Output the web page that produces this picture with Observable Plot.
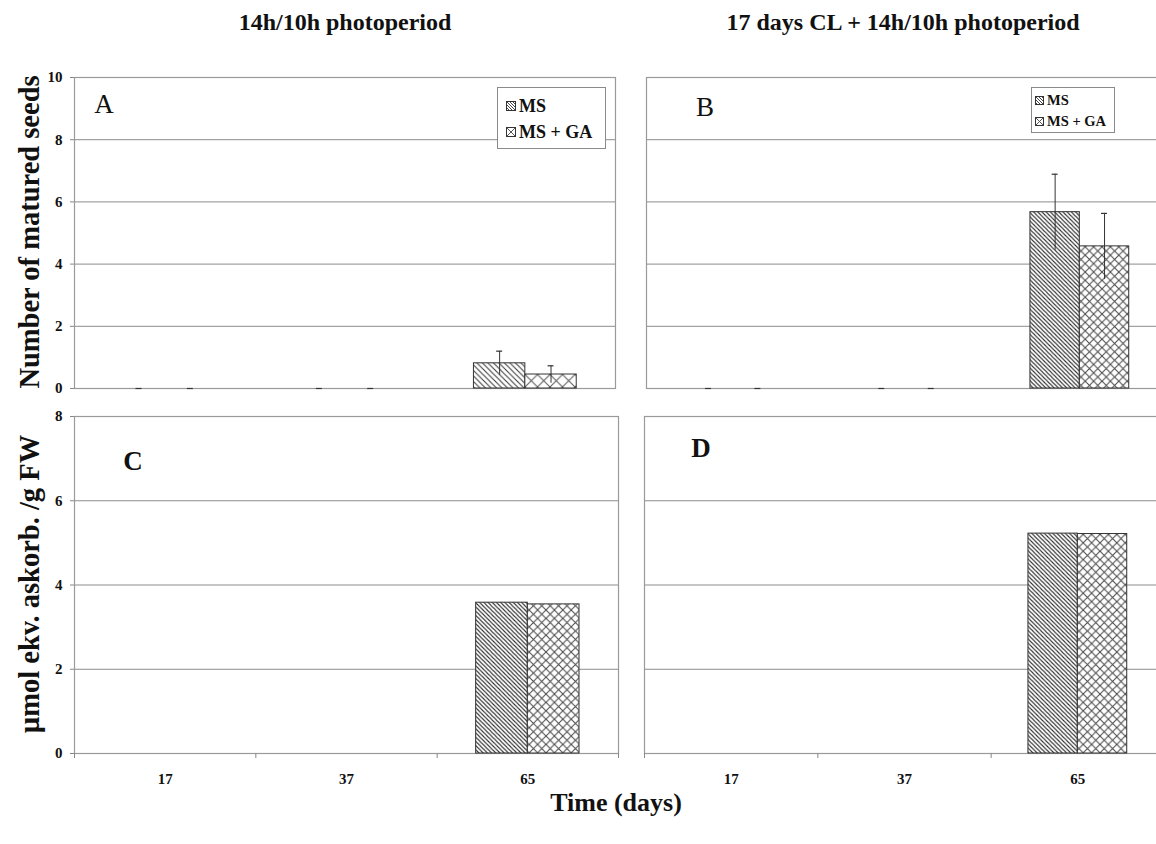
<!DOCTYPE html>
<html>
<head>
<meta charset="utf-8">
<script src="https://cdn.jsdelivr.net/npm/d3@7"></script>
<script src="https://cdn.jsdelivr.net/npm/@observablehq/plot@0.6"></script>
<style>
  html, body { margin: 0; padding: 0; background: #fff; overflow: hidden; }
  #chart { position: relative; width: 1156px; height: 844px; overflow: hidden; background: #fff;
           font-family: "Liberation Serif", "Times New Roman", serif; color: #111; }
  .abs { position: absolute; white-space: nowrap; }
  .center { transform: translate(-50%, -50%); }
  .title { font-weight: bold; font-size: 24px; }
  .ylab { font-weight: bold; font-size: 28.5px; transform: translate(-50%, -50%) rotate(-90deg); }
  .legend { position: absolute; background: #fff; border: 1px solid #8a8a8a; font-weight: bold; box-sizing: border-box; white-space: nowrap; }
  .legend .row { display: flex; align-items: center; white-space: nowrap; }
  .legend svg { display: block; flex: none; }
</style>
</head>
<body>
<div id="chart"></div>
<script>
// ---------------- data ----------------
const days = ["17", "37", "65"];
const seriesNames = ["MS", "MS + GA"];

// Panel A: Number of matured seeds, 14h/10h photoperiod
const seedsA_MS = [0, 0, 0.81];
const seedsA_MS_err = [0, 0, 0.39];
const seedsA_GA = [0, 0, 0.45];
const seedsA_GA_err = [0, 0, 0.28];

// Panel B: Number of matured seeds, 17 days CL + 14h/10h photoperiod
const seedsB_MS = [0, 0, 5.67];
const seedsB_MS_err = [0, 0, 1.22];
const seedsB_GA = [0, 0, 4.57];
const seedsB_GA_err = [0, 0, 1.06];

// Panel C / D: µmol ekv. askorb. / g FW
const ascC_MS = [0, 0, 3.58];
const ascC_GA = [0, 0, 3.54];
const ascD_MS = [0, 0, 5.22];
const ascD_GA = [0, 0, 5.21];

const seedTicks = [0, 2, 4, 6, 8, 10];
const ascTicks = [0, 2, 4, 6, 8];

// ---------------- patterns ----------------
const SVGNS = "http://www.w3.org/2000/svg";
function diagPattern(id, p, color, sw) {
  return `<pattern id="${id}" patternUnits="userSpaceOnUse" width="${p}" height="${p}">
    <rect width="${p}" height="${p}" fill="#fff"/>
    <path d="M0,0 L${p},${p} M${-1},${p-1} L1,${p+1} M${p-1},-1 L${p+1},1" stroke="${color}" stroke-width="${sw}" fill="none"/>
  </pattern>`;
}
function crossPattern(id, p, color, sw) {
  return `<pattern id="${id}" patternUnits="userSpaceOnUse" width="${p}" height="${p}">
    <rect width="${p}" height="${p}" fill="#fff"/>
    <path d="M0,0 L${p},${p} M${p},0 L0,${p}" stroke="${color}" stroke-width="${sw}" fill="none"/>
  </pattern>`;
}
const defsSvg = document.createElementNS(SVGNS, "svg");
defsSvg.setAttribute("width", "0");
defsSvg.setAttribute("height", "0");
defsSvg.style.position = "absolute";
defsSvg.innerHTML = `<defs>
  ${diagPattern("msA", 5.5, "#333", 1)}
  ${crossPattern("gaA", 12.5, "#555", 1)}
  ${diagPattern("msB", 4.2, "#2a2a2a", 1.05)}
  ${crossPattern("gaB", 8.4, "#4a4a4a", 1.05)}
  ${diagPattern("msL", 3, "#333", 0.9)}
</defs>`;
document.body.appendChild(defsSvg);

// ---------------- panels ----------------
const slot = {"MS": [0.215, 0.5], "MS + GA": [0.5, 0.785]};
const cx = d => d.i + (slot[d.series][0] + slot[d.series][1]) / 2;

function rowsFor(ms, ga, msErr, gaErr) {
  return days.flatMap((day, i) => [
    {i, day, series: "MS", value: ms[i], err: msErr ? msErr[i] : null},
    {i, day, series: "MS + GA", value: ga[i], err: gaErr ? gaErr[i] : null}
  ]);
}

function panel(o) {
  const rows = rowsFor(o.ms, o.ga, o.msErr, o.gaErr);
  const bars = rows.filter(d => d.value > 0);
  const errs = rows.filter(d => d.err != null);
  const marks = [
    Plot.ruleY(o.ticks.filter(t => t > 0 && t < o.yMax), {stroke: "#8c8c8c", strokeWidth: 1}),
    Plot.frame({stroke: "#9a9a9a", strokeWidth: 1.2}),
    Plot.rectY(bars.filter(d => d.series === "MS"), {
      x1: d => d.i + slot[d.series][0], x2: d => d.i + slot[d.series][1],
      y1: 0, y2: "value", fill: `url(#${o.pat[0]})`, stroke: "#333", strokeWidth: 1
    }),
    Plot.rectY(bars.filter(d => d.series === "MS + GA"), {
      x1: d => d.i + slot[d.series][0], x2: d => d.i + slot[d.series][1],
      y1: 0, y2: "value", fill: `url(#${o.pat[1]})`, stroke: "#333", strokeWidth: 1
    }),
    Plot.ruleX(errs, {x: cx, y1: d => d.value - d.err, y2: d => d.value + d.err, stroke: "#333", strokeWidth: 1}),
    Plot.ruleY(errs, {y: d => d.value + d.err, x1: cx, x2: cx, insetLeft: -3, insetRight: -3, stroke: "#333", strokeWidth: 1.2})
  ];
  if (o.showY) {
    marks.push(Plot.axisY(o.ticks, {tickSize: 4, tickPadding: 8, stroke: "#888", fill: "#111",
      fontSize: 15, fontWeight: "bold", label: null}));
  }
  if (o.showX) {
    marks.push(Plot.axisX([0, 1, 2, 3], {tickSize: 5, tickFormat: () => "", stroke: "#888", label: null}));
    marks.push(Plot.axisX([0.5, 1.5, 2.5], {tickSize: 0, tickPadding: 20, tickFormat: v => days[Math.floor(v)],
      fill: "#111", fontSize: 15, fontWeight: "bold", label: null}));
  }
  const svg = Plot.plot({
    width: o.width, height: o.height,
    marginLeft: o.m[0], marginRight: o.m[1], marginTop: o.m[2], marginBottom: o.m[3],
    x: {type: "linear", domain: [0, 3], axis: o.showX ? undefined : null},
    y: {domain: [0, o.yMax], axis: o.showY ? undefined : null},
    style: {fontFamily: "Liberation Serif, Times New Roman, serif", background: "transparent", overflow: "visible"},
    marks
  });
  svg.style.position = "absolute";
  svg.style.left = o.left + "px";
  svg.style.top = o.top + "px";
  svg.style.maxWidth = "none";
  // enforce the tick-label font on every text node
  svg.querySelectorAll("text").forEach(t => {
    t.style.fontSize = "15px";
    t.style.fontWeight = "bold";
    t.style.fontFamily = "'Liberation Serif', 'Times New Roman', serif";
  });
  return svg;
}

const chart = document.getElementById("chart");

chart.appendChild(panel({ms: seedsA_MS, ga: seedsA_GA, msErr: seedsA_MS_err, gaErr: seedsA_GA_err,
  yMax: 10, ticks: seedTicks, showY: true, showX: false, pat: ["msA", "gaA"],
  left: 0, top: 62, width: 620, height: 340, m: [74, 5, 15, 14]}));
chart.appendChild(panel({ms: seedsB_MS, ga: seedsB_GA, msErr: seedsB_MS_err, gaErr: seedsB_GA_err,
  yMax: 10, ticks: seedTicks, showY: false, showX: false, pat: ["msB", "gaB"],
  left: 640, top: 62, width: 530, height: 340, m: [6, 4, 15, 14]}));
chart.appendChild(panel({ms: ascC_MS, ga: ascC_GA,
  yMax: 8, ticks: ascTicks, showY: true, showX: true, pat: ["msB", "gaB"],
  left: 0, top: 400, width: 625, height: 395, m: [74, 7, 16, 42]}));
chart.appendChild(panel({ms: ascD_MS, ga: ascD_GA,
  yMax: 8, ticks: ascTicks, showY: false, showX: true, pat: ["msB", "gaB"],
  left: 638, top: 400, width: 530, height: 395, m: [6, 4, 16, 42]}));

// ---------------- text ----------------
function addText(txt, x, y, cls, style) {
  const d = document.createElement("div");
  d.className = "abs " + cls;
  d.textContent = txt;
  d.style.left = x + "px";
  d.style.top = y + "px";
  if (style) Object.assign(d.style, style);
  chart.appendChild(d);
  return d;
}
addText("14h/10h photoperiod", 345, 22, "title center");
addText("17 days CL + 14h/10h photoperiod", 903, 22, "title center");
addText("Number of matured seeds", 30, 232, "ylab");
addText("µmol ekv. askorb. /g FW", 30, 584, "ylab");
addText("Time (days)", 616, 803, "title center", {fontSize: "26px"});
addText("A", 104, 104, "center", {fontSize: "27px"});
addText("B", 705, 107, "center", {fontSize: "27px"});
addText("C", 133, 461, "center", {fontSize: "27px", fontWeight: "bold"});
addText("D", 701, 448, "center", {fontSize: "27px", fontWeight: "bold"});

// ---------------- legends ----------------
function legend(x, y, w, h, fontSize, lineH, sw, pad) {
  const box = document.createElement("div");
  box.className = "legend";
  Object.assign(box.style, {left: x + "px", top: y + "px", width: w + "px", height: h + "px",
    fontSize: fontSize + "px", padding: pad});
  seriesNames.forEach((name, k) => {
    const row = document.createElement("div");
    row.className = "row";
    row.style.height = lineH + "px";
    const s = document.createElementNS(SVGNS, "svg");
    s.setAttribute("width", sw + 2);
    s.setAttribute("height", sw + 2);
    s.style.marginRight = "2px";
    if (k === 0) {
      s.innerHTML = `<rect x="0.5" y="0.5" width="${sw}" height="${sw}" fill="url(#msL)" stroke="#333"/>`;
    } else {
      s.innerHTML = `<rect x="0.5" y="0.5" width="${sw}" height="${sw}" fill="#fff" stroke="#333"/>
        <path d="M0.5,0.5 L${sw+0.5},${sw+0.5} M${sw+0.5},0.5 L0.5,${sw+0.5}" stroke="#444" stroke-width="0.9"/>`;
    }
    row.appendChild(s);
    const t = document.createElement("span");
    t.textContent = name;
    row.appendChild(t);
    box.appendChild(row);
  });
  chart.appendChild(box);
}
legend(497, 87, 109, 62, 18, 26, 9, "5px 8px");
legend(1031, 87, 84, 46, 14.5, 21, 8, "2px 3px");
</script>
</body>
</html>
